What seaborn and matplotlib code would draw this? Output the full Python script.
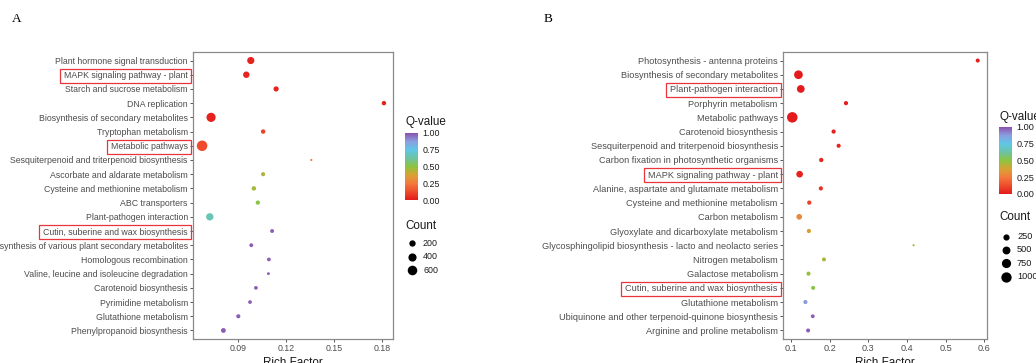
import numpy as np
import pandas as pd
import matplotlib
matplotlib.use("Agg")
import matplotlib.pyplot as plt
from matplotlib.colors import LinearSegmentedColormap, Normalize
from matplotlib.cm import ScalarMappable
from matplotlib.patches import Rectangle
from matplotlib.transforms import IdentityTransform
import seaborn as sns

# ---------------- data ----------------
a_pathways = [
    "Plant hormone signal transduction",
    "MAPK signaling pathway - plant",
    "Starch and sucrose metabolism",
    "DNA replication",
    "Biosynthesis of secondary metabolites",
    "Tryptophan metabolism",
    "Metabolic pathways",
    "Sesquiterpenoid and triterpenoid biosynthesis",
    "Ascorbate and aldarate metabolism",
    "Cysteine and methionine metabolism",
    "ABC transporters",
    "Plant-pathogen interaction",
    "Cutin, suberine and wax biosynthesis",
    "Biosynthesis of various plant secondary metabolites",
    "Homologous recombination",
    "Valine, leucine and isoleucine degradation",
    "Carotenoid biosynthesis",
    "Pyrimidine metabolism",
    "Glutathione metabolism",
    "Phenylpropanoid biosynthesis",
]
a_rich = [0.0980, 0.0952, 0.1138, 0.1811, 0.0732, 0.1057, 0.0676, 0.1358, 0.1057, 0.0999,
          0.1024, 0.0724, 0.1113, 0.0983, 0.1093, 0.1090, 0.1012, 0.0975, 0.0902, 0.0809]
a_qvalue = [0.02, 0.03, 0.02, 0.02, 0.02, 0.10, 0.12, 0.28, 0.44, 0.46,
            0.51, 0.66, 0.98, 0.98, 0.98, 0.98, 0.98, 0.98, 0.98, 0.98]
a_count = [280, 210, 110, 70, 540, 70, 760, 15, 55, 70,
           60, 300, 45, 45, 40, 20, 40, 40, 55, 90]
a_boxed = ["MAPK signaling pathway - plant", "Metabolic pathways",
           "Cutin, suberine and wax biosynthesis"]
a_xticks = [0.09, 0.12, 0.15, 0.18]
a_count_breaks = [200, 400, 600]

b_pathways = [
    "Photosynthesis - antenna proteins",
    "Biosynthesis of secondary metabolites",
    "Plant-pathogen interaction",
    "Porphyrin metabolism",
    "Metabolic pathways",
    "Carotenoid biosynthesis",
    "Sesquiterpenoid and triterpenoid biosynthesis",
    "Carbon fixation in photosynthetic organisms",
    "MAPK signaling pathway - plant",
    "Alanine, aspartate and glutamate metabolism",
    "Cysteine and methionine metabolism",
    "Carbon metabolism",
    "Glyoxylate and dicarboxylate metabolism",
    "Glycosphingolipid biosynthesis - lacto and neolacto series",
    "Nitrogen metabolism",
    "Galactose metabolism",
    "Cutin, suberine and wax biosynthesis",
    "Glutathione metabolism",
    "Ubiquinone and other terpenoid-quinone biosynthesis",
    "Arginine and proline metabolism",
]
b_rich = [0.583, 0.119, 0.125, 0.242, 0.103, 0.210, 0.223, 0.178, 0.122, 0.177,
          0.147, 0.121, 0.146, 0.417, 0.185, 0.145, 0.157, 0.137, 0.156, 0.144]
b_qvalue = [0.01, 0.00, 0.00, 0.01, 0.00, 0.02, 0.02, 0.03, 0.02, 0.06,
            0.10, 0.30, 0.36, 0.43, 0.45, 0.49, 0.51, 0.88, 0.98, 0.98]
b_count = [60, 650, 470, 70, 1050, 70, 65, 75, 310, 70,
           75, 190, 70, 10, 60, 65, 60, 65, 50, 60]
b_boxed = ["Plant-pathogen interaction", "MAPK signaling pathway - plant",
           "Cutin, suberine and wax biosynthesis"]
b_xticks = [0.1, 0.2, 0.3, 0.4, 0.5, 0.6]
b_count_breaks = [250, 500, 750, 1000]

# ---------------- style ----------------
W, H, DPI = 1036, 363, 100
SANS = ["Liberation Sans", "DejaVu Sans"]
SERIF = ["Liberation Serif", "DejaVu Serif"]
TEXT_GREY = "#4d4d4d"
BORDER = "#8a8a8a"
BOX_RED = "#e8343a"

sns.set_theme(style="white")
plt.rcParams["font.family"] = SANS

qcmap = LinearSegmentedColormap.from_list(
    "qvalue",
    [(0.00, "#e41a1c"), (0.12, "#ee4b2b"), (0.25, "#f37a3c"), (0.375, "#d8a233"),
     (0.50, "#8dc43e"), (0.625, "#6cc3a3"), (0.75, "#5ec7e6"), (0.875, "#8a9fe0"),
     (1.00, "#8a52ae")])

PX_PER_GGPT = 10.5 / (2.845 * 6 + 0.945)


def point_area(c, cmin, cmax):
    """ggplot-style area scale (size range 1..6) converted to scatter area in pt^2."""
    f = np.clip((np.asarray(c, float) - cmin) / (cmax - cmin), 0, 1)
    s = 1 + 5 * np.sqrt(f)
    d_px = PX_PER_GGPT * (2.845 * s + 0.945)
    return (d_px * 72.0 / DPI) ** 2


def px_rect(x0, y0, x1, y1):
    return [x0 / W, 1 - y1 / H, (x1 - x0) / W, (y1 - y0) / H]


fig = plt.figure(figsize=(W / DPI, H / DPI), dpi=DPI)
overlay = fig.add_axes([0, 0, 1, 1])
overlay.set_xlim(0, W)
overlay.set_ylim(H, 0)
overlay.axis("off")


def draw_panel(rect_px, names, rich, qv, count, xticks, tick_fmt, label_size):
    df = pd.DataFrame({"pathway": names, "rich": rich, "q": qv, "count": count})
    df["row"] = np.arange(len(df))
    cmin, cmax = df["count"].min(), df["count"].max()
    df["area"] = point_area(df["count"], cmin, cmax)

    ax = fig.add_axes(px_rect(*rect_px))
    sns.scatterplot(data=df, x="rich", y="row", hue="q", palette=qcmap, hue_norm=(0, 1),
                    size="area", sizes=(df["area"].min(), df["area"].max()),
                    size_norm=(df["area"].min(), df["area"].max()),
                    linewidth=0, legend=False, ax=ax, zorder=3)

    lo, hi = df["rich"].min(), df["rich"].max()
    pad = 0.05 * (hi - lo)
    ax.set_xlim(lo - pad, hi + pad)
    ax.set_ylim(len(df) - 0.4, -0.6)
    ax.set_yticks(df["row"])
    ax.set_yticklabels(df["pathway"])
    ax.set_xticks(xticks)
    ax.set_xticklabels([tick_fmt.format(t) for t in xticks])
    ax.set_ylabel("")
    ax.set_xlabel("Rich Factor", fontsize=8.4, color="#1a1a1a", labelpad=2.5)
    ax.grid(False)
    for sp in ax.spines.values():
        sp.set_visible(True)
        sp.set_color(BORDER)
        sp.set_linewidth(0.9)
    ax.tick_params(axis="both", which="major", length=2.2, width=0.7, color="#555555",
                   labelsize=label_size, labelcolor=TEXT_GREY, pad=1.5,
                   left=True, bottom=True)
    return ax, cmin, cmax


def draw_legend(x0, title_y, bar_top, count_title_y, dot_y0, dot_step, breaks,
                cmin, cmax, label_size):
    overlay.text(x0, title_y, "Q-value", fontsize=8.4, color="#1a1a1a",
                 ha="left", va="center")
    cax = fig.add_axes(px_rect(x0, bar_top, x0 + 12.5, bar_top + 67))
    cb = fig.colorbar(ScalarMappable(norm=Normalize(0, 1), cmap=qcmap), cax=cax,
                      ticks=[0, 0.25, 0.5, 0.75, 1.0])
    cb.outline.set_visible(False)
    cb.minorticks_off()
    cax.set_yticklabels(["0.00", "0.25", "0.50", "0.75", "1.00"])
    cax.tick_params(axis="y", which="major", direction="in", length=2.2, width=0.6,
                    color="white", left=True, right=True, labelsize=label_size,
                    labelcolor="#1a1a1a", pad=3.5)

    overlay.text(x0, count_title_y, "Count", fontsize=8.4, color="#1a1a1a",
                 ha="left", va="center")
    for i, b in enumerate(breaks):
        y = dot_y0 + i * dot_step
        overlay.scatter([x0 + 7], [y], s=point_area(b, cmin, cmax), color="black",
                        linewidth=0)
        overlay.text(x0 + 18, y, str(b), fontsize=label_size, color="#1a1a1a",
                     ha="left", va="center")


ax_a, a_min, a_max = draw_panel((193, 52, 393, 339), a_pathways, a_rich, a_qvalue,
                                a_count, a_xticks, "{:.2f}", 6.35)
ax_b, b_min, b_max = draw_panel((783, 52, 987, 339), b_pathways, b_rich, b_qvalue,
                                b_count, b_xticks, "{:.1f}", 6.6)

draw_legend(405, 122, 133, 226, 243.3, 13.4, a_count_breaks, a_min, a_max, 6.4)
draw_legend(999, 117, 127, 217, 236.7, 13.3, b_count_breaks, b_min, b_max, 6.6)

fig.text(12 / W, 1 - 18.5 / H, "A", family=SERIF, fontsize=9.5, color="black",
         ha="left", va="center")
fig.text(544 / W, 1 - 18.5 / H, "B", family=SERIF, fontsize=9.5, color="black",
         ha="left", va="center")

# red frames around highlighted pathway names
fig.canvas.draw()
renderer = fig.canvas.get_renderer()
for ax, boxed in ((ax_a, a_boxed), (ax_b, b_boxed)):
    ax_left = ax.get_window_extent(renderer).x0
    for lab in ax.get_yticklabels():
        if lab.get_text() in boxed:
            bb = lab.get_window_extent(renderer)
            yc = 0.5 * (bb.y0 + bb.y1)
            x0 = bb.x0 - 4
            x1 = ax_left - 2.5
            rect = Rectangle((x0, yc - 7), x1 - x0, 14, transform=IdentityTransform(),
                             fill=False, edgecolor=BOX_RED, linewidth=0.9, zorder=10)
            fig.add_artist(rect)

fig.savefig("out.png", dpi=DPI)
